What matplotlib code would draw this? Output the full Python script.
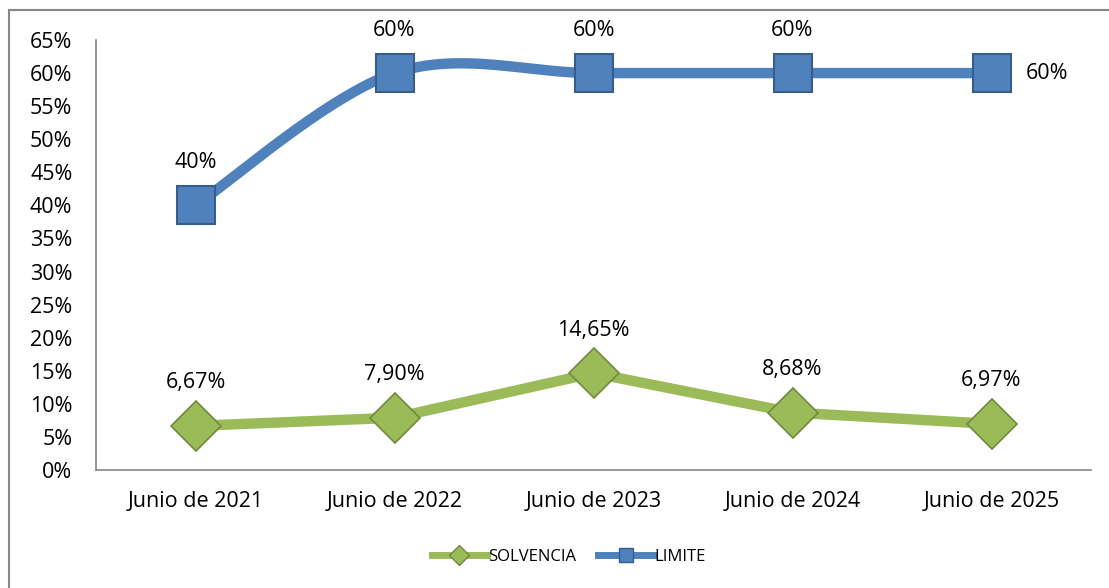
import numpy as np
import matplotlib.pyplot as plt
from matplotlib.patches import Rectangle
from matplotlib.ticker import FuncFormatter

plt.rcParams['font.family'] = ['Open Sans', 'DejaVu Sans']

categories = ["Junio de 2021", "Junio de 2022", "Junio de 2023", "Junio de 2024", "Junio de 2025"]
solvencia = [6.67, 7.90, 14.65, 8.68, 6.97]
limite = [40, 60, 60, 60, 60]
solvencia_labels = ["6,67%", "7,90%", "14,65%", "8,68%", "6,97%"]
limite_labels = ["40%", "60%", "60%", "60%", "60%"]

blue = "#4F81BD"
green = "#9BBB59"


def smooth(x, y, n=40):
    # Excel-like smoothed line (Catmull-Rom through the points)
    x = np.asarray(x, float)
    y = np.asarray(y, float)
    px = np.concatenate([[x[0]], x, [x[-1]]])
    py = np.concatenate([[y[0]], y, [y[-1]]])
    xs, ys = [], []
    for i in range(1, len(px) - 2):
        t = np.linspace(0, 1, n)
        p0, p1, p2, p3 = (np.array([px[j], py[j]]) for j in range(i - 1, i + 3))
        c1 = p1 + (p2 - p0) / 6
        c2 = p2 - (p3 - p1) / 6
        pts = ((1 - t) ** 3)[:, None] * p1 + (3 * (1 - t) ** 2 * t)[:, None] * c1 \
            + (3 * (1 - t) * t ** 2)[:, None] * c2 + (t ** 3)[:, None] * p2
        xs.extend(pts[:, 0])
        ys.extend(pts[:, 1])
    return np.array(xs), np.array(ys)


fig = plt.figure(figsize=(11.09, 5.88), dpi=100)
ax = fig.add_axes([96 / 1109, 1 - 470 / 588, (1091 - 96) / 1109, (470 - 40) / 588])

x = np.arange(len(categories))
sx, sy = smooth(x, limite)
ax.plot(sx, sy, color=blue, lw=7.5, solid_capstyle='round', zorder=2)
ax.plot(x, limite, ls='none', marker='s', ms=27, mfc=blue, mec="#385D8A", mew=1.5, zorder=3)

ax.plot(x, solvencia, color=green, lw=7.5, solid_capstyle='round', zorder=2)
ax.plot(x, solvencia, ls='none', marker='D', ms=25, mfc=green, mec="#71893F", mew=1.2, zorder=3)

fs = 15.5
for i, lab in enumerate(limite_labels):
    if i == len(limite_labels) - 1:
        ax.annotate(lab, (x[i], limite[i]), xytext=(25, 0), textcoords='offset points',
                    ha='left', va='center', fontsize=fs)
    else:
        ax.annotate(lab, (x[i], limite[i]), xytext=(0, 31), textcoords='offset points',
                    ha='center', va='center', fontsize=fs)
for i, lab in enumerate(solvencia_labels):
    ax.annotate(lab, (x[i], solvencia[i]), xytext=(0, 31), textcoords='offset points',
                ha='center', va='center', fontsize=fs)

ax.set_xlim(-0.5, len(categories) - 0.5)
ax.set_ylim(0, 65)
ax.set_yticks(np.arange(0, 66, 5))
ax.yaxis.set_major_formatter(FuncFormatter(lambda v, p: f"{v:.0f}%"))
ax.set_xticks(x)
ax.set_xticklabels(categories)
ax.tick_params(axis='both', length=0, labelsize=fs)
ax.tick_params(axis='y', pad=17)
ax.tick_params(axis='x', pad=15)
for s in ['top', 'right']:
    ax.spines[s].set_visible(False)
for s in ['left', 'bottom']:
    ax.spines[s].set_color("#868686")
    ax.spines[s].set_linewidth(1.2)

# legend
ax.plot([], [], color=green, lw=5, marker='D', ms=10, mfc=green, mec="#71893F", label="SOLVENCIA")
ax.plot([], [], color=blue, lw=5, marker='s', ms=10, mfc=blue, mec="#385D8A", label="LIMITE")
h, l = ax.get_legend_handles_labels()
fig.legend(h[-2:], l[-2:], loc='center', bbox_to_anchor=(569 / 1109, 1 - 557 / 588), ncol=2,
           frameon=False, fontsize=12, handlelength=3.3, handletextpad=0.1, columnspacing=1.3)

# chart area border (cropped)
fig.patches.append(Rectangle((9 / 1109, -0.1), 1.2, 1.1 - 10 / 588, transform=fig.transFigure,
                             fill=False, ec="#868686", lw=1.5))

fig.savefig("out.png", dpi=100)
